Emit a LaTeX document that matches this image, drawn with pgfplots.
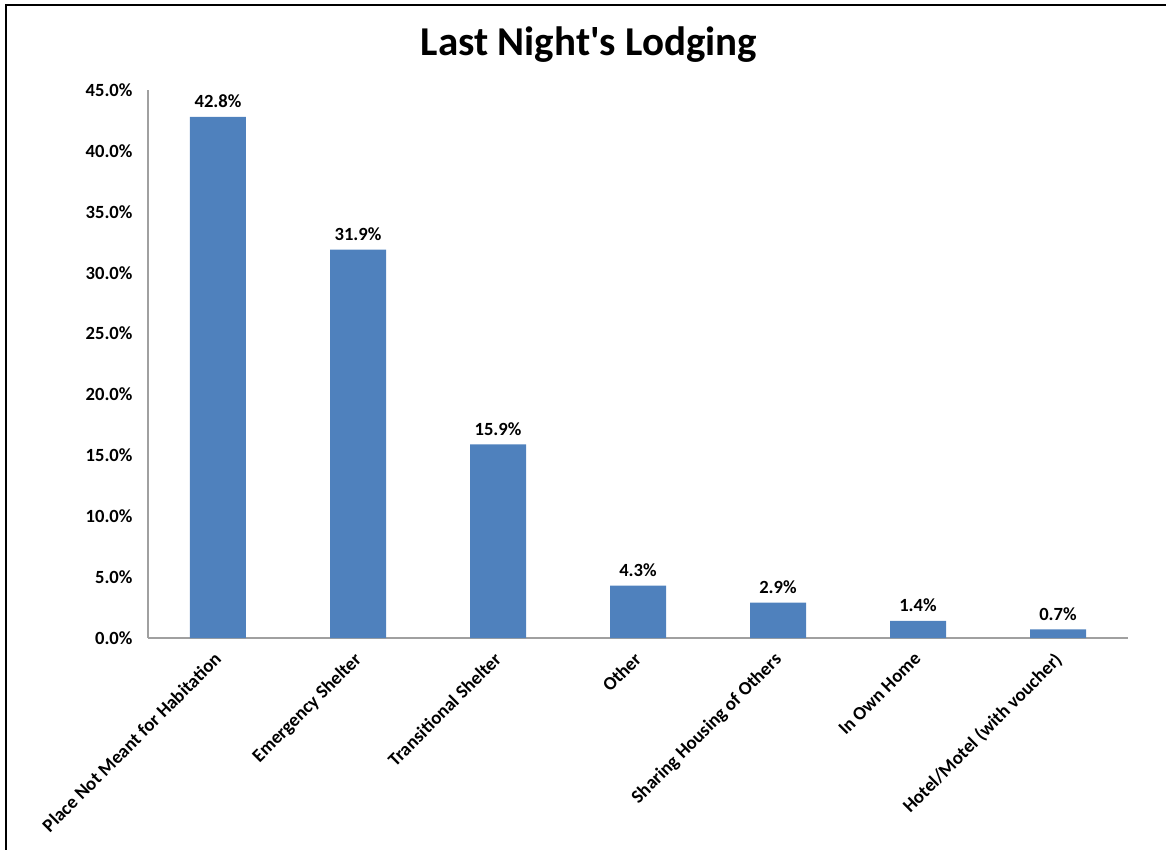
\documentclass[border=0pt]{standalone}
\usepackage{pgfplots}
\pgfplotsset{compat=1.18}
\usetikzlibrary{calc}
\usepackage{fontspec}
\setmainfont{Carlito}[Ligatures=TeXOff]
\definecolor{barblue}{HTML}{4F81BD}
\definecolor{axgray}{HTML}{A0A0A0}
\begin{document}
\begin{tikzpicture}
\begin{axis}[
  scale only axis, width=980bp, height=548bp,
  xmin=-0.5, xmax=6.5, ymin=0, ymax=45,
  ybar, bar width=56bp,
  axis lines*=left,
  axis line style={axgray, line width=1.5bp},
  major tick length=0pt,
  ytick={0,5,...,45},
  /pgf/number format/assume math mode=true,
  yticklabel={\pgfmathprintnumber[fixed,fixed zerofill,precision=1]{\tick}\%},
  yticklabel style={font=\fontsize{18.6bp}{22bp}\selectfont\bfseries, xshift=-12bp},
  xtick={0,...,6},
  xticklabels={Place Not Meant for Habitation, Emergency Shelter, Transitional Shelter, Other, Sharing Housing of Others, In Own Home, Hotel/Motel (with voucher)},
  xticklabel style={font=\fontsize{18.8bp}{22bp}\selectfont\bfseries, xshift=-5bp, yshift=-13bp, rotate=45, anchor=north east, inner sep=0pt},
  point meta=explicit symbolic,
  nodes near coords,
  every node near coord/.append style={font=\fontsize{18.6bp}{22bp}\selectfont\bfseries, anchor=south, inner sep=0pt, yshift=9bp},
  clip=false,
]
\addplot[fill=barblue, draw=none] coordinates {
  (0,42.8) [42.8\%]
  (1,31.9) [31.9\%]
  (2,15.9) [15.9\%]
  (3,4.3) [4.3\%]
  (4,2.9) [2.9\%]
  (5,1.4) [1.4\%]
  (6,0.7) [0.7\%]
};
\coordinate (O) at (axis cs:-0.5,0);
\end{axis}
\pgfresetboundingbox
\path[use as bounding box] ($(O)+(-148bp,-212bp)$) rectangle ($(O)+(1018bp,638bp)$);
\begin{scope}[shift={($(O)+(-148bp,-212bp)$)}, x=1bp, y=1bp]
\draw[line width=2bp] (6,0) -- (6,845) -- (1166,845);
\node[anchor=base, font=\fontsize{41bp}{46bp}\selectfont\bfseries] at (589,795) {Last Night's Lodging};
\end{scope}
\end{tikzpicture}
\end{document}
